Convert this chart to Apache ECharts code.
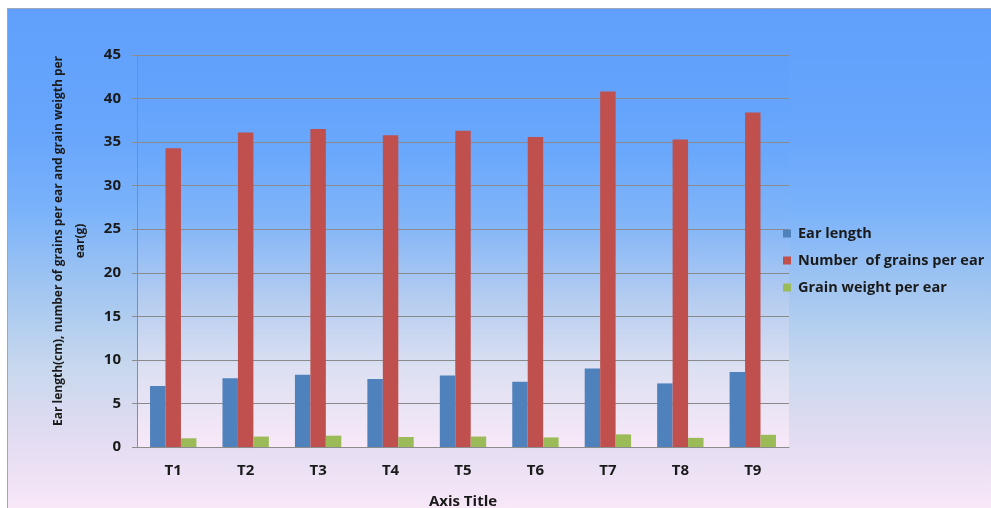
<!DOCTYPE html>
<html>
<head>
<meta charset="utf-8">
<script src="https://cdn.jsdelivr.net/npm/echarts@6/dist/echarts.min.js"></script>
<style>
html,body{margin:0;padding:0;background:#ffffff;width:991px;height:508px;overflow:hidden;}
#bg{position:absolute;left:7px;top:8px;width:984px;height:500px;box-sizing:border-box;border-left:1px solid #9aa8bc;border-top:1px solid #9aa8bc;
background:linear-gradient(to bottom,#60a0fc 0%,#68a6fc 25%,#7ab2fa 40%,#a6c8f0 58%,#c8d8ee 72%,#e4dcf2 87%,#f8e8f8 100%);}
#chart{position:absolute;left:0;top:0;width:991px;height:508px;}
</style>
</head>
<body>
<div id="bg"></div>
<div id="chart"></div>
<script>
var categories = ['T1','T2','T3','T4','T5','T6','T7','T8','T9'];
var earLength = [7.0, 7.9, 8.3, 7.8, 8.2, 7.5, 9.0, 7.3, 8.6];
var grainsPerEar = [34.3, 36.1, 36.5, 35.8, 36.3, 35.6, 40.8, 35.3, 38.4];
var grainWeight = [1.0, 1.2, 1.3, 1.15, 1.2, 1.1, 1.45, 1.05, 1.4];
var seriesNames = ['Ear length', 'Number  of grains per ear', 'Grain weight per ear'];
var yTicks = {min: 0, max: 45, interval: 5};

var chart = echarts.init(document.getElementById('chart'), null, {renderer: 'canvas'});
var font = '"Open Sans", Lato, "DejaVu Sans", sans-serif';
var plotGradient = new echarts.graphic.LinearGradient(0, 0, 0, 1, [
  {offset: 0, color: '#60a0fc'},
  {offset: 0.25, color: '#6aa8fc'},
  {offset: 0.42, color: '#80b4f8'},
  {offset: 0.62, color: '#b4ccf0'},
  {offset: 0.8, color: '#dce0f2'},
  {offset: 1, color: '#f8e8f8'}
]);
chart.setOption({
  backgroundColor: 'transparent',
  animation: false,
  textStyle: {fontFamily: font},
  grid: {left: 137, right: 202, top: 55, bottom: 61, show: true, backgroundColor: plotGradient, borderWidth: 0, outerBoundsMode: 'none', containLabel: false},
  legend: {
    orient: 'vertical', left: 778, top: 221,
    itemWidth: 8, itemHeight: 8, itemGap: 12,
    icon: 'rect',
    textStyle: {fontFamily: font, fontSize: 14.5, fontWeight: 'bold', color: '#1a1a1a', padding: [0, 0, 0, 2]},
    data: seriesNames
  },
  xAxis: {
    type: 'category', data: categories,
    name: 'Axis Title', nameLocation: 'middle', nameGap: 47,
    nameTextStyle: {fontFamily: font, fontSize: 15, fontWeight: 'bold', color: '#1a1a1a'},
    axisLine: {lineStyle: {color: '#8c8c8c', width: 1}},
    axisTick: {show: false},
    axisLabel: {fontFamily: font, fontSize: 15, fontWeight: 'bold', color: '#1a1a1a', margin: 16},
  },
  yAxis: {
    type: 'value', min: yTicks.min, max: yTicks.max, interval: yTicks.interval,
    name: 'Ear length(cm), number of grains per ear and grain weigth per\near(g)',
    nameLocation: 'middle', nameGap: 45, nameRotate: 90,
    nameTextStyle: {fontFamily: font, fontSize: 12, fontWeight: 'bold', color: '#1a1a1a', lineHeight: 22, padding: [0, 0, 0, 20]},
    axisLine: {show: true, lineStyle: {color: '#8c8c8c', width: 1}},
    axisTick: {show: true, length: 5, lineStyle: {color: '#8c8c8c'}},
    axisLabel: {fontFamily: font, fontSize: 15, fontWeight: 'bold', color: '#1a1a1a', margin: 16},
    splitLine: {lineStyle: {color: '#8a8a8a', width: 1}}
  },
  series: [
    {name: seriesNames[0], type: 'bar', data: earLength, itemStyle: {color: '#4f81bd'}, barGap: '0%', barCategoryGap: '36%'},
    {name: seriesNames[1], type: 'bar', data: grainsPerEar, itemStyle: {color: '#c0504d'}},
    {name: seriesNames[2], type: 'bar', data: grainWeight, itemStyle: {color: '#9bbb59'}}
  ]
});
</script>
</body>
</html>
